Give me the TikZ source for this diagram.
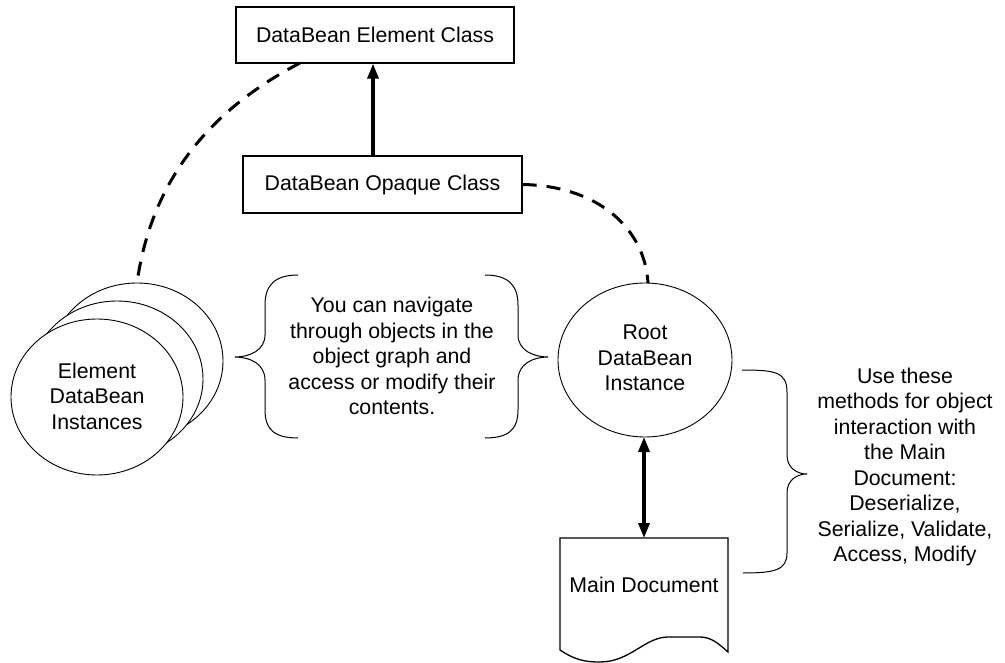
\documentclass[tikz,border=0pt]{standalone}
\usepackage{fontspec}
\setmainfont{Liberation Sans}
\usetikzlibrary{arrows.meta}
\begin{document}
\begin{tikzpicture}[x=1pt,y=-1pt,
  txt/.style={font=\fontsize{21.3}{25.5}\selectfont, align=center, inner sep=0pt},
  boxstyle/.style={draw, line width=1.3pt, minimum width=#1, minimum height=56pt, inner sep=0pt, font=\fontsize{21.3}{25.5}\selectfont},
  dashline/.style={line width=3pt, dash pattern=on 14pt off 10pt},
  thickarrow/.style={line width=3.3pt, -{Triangle[length=15pt,width=11pt]}},
  brace/.style={line width=1pt}
]
\useasboundingbox (0,0) rectangle (1005,663);
% top boxes
\node[boxstyle=278pt] (elem) at (375,35) {DataBean Element Class};
\node[boxstyle=279pt, minimum height=57pt] (opaque) at (382.5,184.5) {DataBean Opaque Class};
\draw[thickarrow] (opaque.north -| 373,0) -- (elem.south -| 373,0);
% element instances (stacked circles)
\draw[line width=0.9pt, fill=white] (137,361) ellipse [x radius=86, y radius=78];
\draw[line width=0.9pt, fill=white] (117,379) ellipse [x radius=86, y radius=78];
\draw[line width=0.9pt, fill=white] (97,397) ellipse [x radius=86, y radius=78];
\coordinate (einst) at (137,283);
\node[txt] (elemtxt) at (97,396) {Element\\DataBean\\Instances};
% dashed connectors
\draw[dashline] (300,63) .. controls (200,115) and (150,190) .. (einst);
\coordinate (rtop) at (648,283);
\draw[dashline] (opaque.east) .. controls (600,186) and (645,230) .. (rtop);
% root instance
\draw[line width=0.9pt] (645,360) ellipse [x radius=87, y radius=77];
\node[txt] (root) at (645,358) {Root\\DataBean\\Instance};
% main document
\draw[line width=1.3pt] (560,650) -- (560,538) -- (728,538) -- (728,652)
  .. controls (720,645) and (712,637) .. (700,637) -- (668,637)
  .. controls (645,637) and (630,662) .. (600,662)
  .. controls (585,662) and (575,660) .. (560,650);
\node[txt] (doc) at (644,585) {Main Document};
\coordinate (rbot) at (644,437);
\coordinate (dtop) at (644,538);
\draw[line width=3.3pt, {Triangle[length=15pt,width=11pt]}-{Triangle[length=15pt,width=11pt]}] (rbot) -- (dtop);
% left braces
\draw[brace] (298,275) .. controls (275,275) and (265,285) .. (265,305) -- (265,335)
  .. controls (265,350) and (250,357) .. (235,357)
  .. controls (250,357) and (265,364) .. (265,380) -- (265,410)
  .. controls (265,430) and (275,438) .. (298,438);
\draw[brace] (485,275) .. controls (508,275) and (518,285) .. (518,305) -- (518,335)
  .. controls (518,350) and (533,357) .. (548,357)
  .. controls (533,357) and (518,364) .. (518,380) -- (518,410)
  .. controls (518,430) and (508,438) .. (485,438);
\node[txt] (navtxt) at (392,356) {You can navigate\\through objects in the\\object graph and\\access or modify their\\contents.};
% right brace
\draw[brace] (742,370) .. controls (775,370) and (787,372) .. (787,392) -- (787,455)
  .. controls (787,468) and (797,474) .. (807,474)
  .. controls (797,474) and (787,480) .. (787,493) -- (787,553)
  .. controls (787,570) and (775,573) .. (743,573);
\node[txt] (methods) at (905,467) {Use these\\methods for object\\interaction with\\the Main\\Document:\\Deserialize,\\Serialize, Validate,\\Access, Modify};
\end{tikzpicture}
\end{document}
